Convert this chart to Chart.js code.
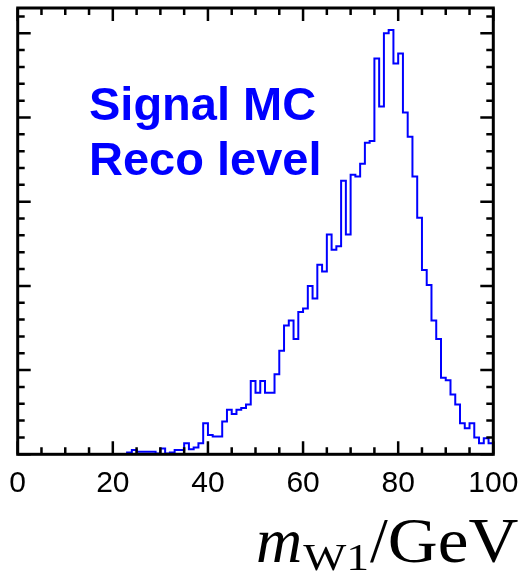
<!DOCTYPE html>
<html>
<head>
<meta charset="utf-8">
<script src="https://cdn.jsdelivr.net/npm/chart.js@4/dist/chart.umd.min.js"></script>
<style>
  html, body { margin: 0; padding: 0; background: #fff; }
</style>
</head>
<body>
<canvas id="massChart" width="523" height="574"></canvas>
<script>
// reconstructed W mass, 1 GeV bins from 0 to 100
const binEdgeLow = 0;
const binWidth = 1;
const binCounts = [
  0, 0, 0, 0, 0, 0, 0, 0, 0, 0,
  0, 0, 0, 0, 0, 0, 0, 0, 0, 0,
  0, 0, 0, 2, 5, 3, 3, 3, 3, 1,
  7, 1, 2, 5, 5, 13, 6, 8, 13, 37,
  23, 21, 21, 39, 53, 48, 53, 55, 59, 87,
  73, 87, 73, 73, 95, 123, 153, 159, 137, 169,
  173, 200, 185, 225, 217, 261, 243, 247, 325, 261,
  332, 330, 345, 370, 372, 470, 413, 500, 504, 464,
  476, 406, 377, 330, 281, 219, 201, 159, 137, 91,
  88, 71, 59, 37, 31, 37, 20, 13, 19, 13
];
const xTicks = [0, 20, 40, 60, 80, 100];
const labelLines = ['Signal MC', 'Reco level'];

const yMax = 530;
const axisFont = 'Liberation Sans, Arial, sans-serif';
const titleFont = '"Liberation Serif", "Times New Roman", serif';

// left edges of every bin, last point closes the final bin
const points = binCounts.map((c, i) => ({ x: binEdgeLow + i * binWidth, y: c }));
points.push({ x: binEdgeLow + binCounts.length * binWidth, y: binCounts[binCounts.length - 1] });

// box around the plot with inward ticks on all four sides
const frameTicks = {
  id: 'frameTicks',
  afterDatasetsDraw(chart) {
    const { ctx, chartArea: a, scales: { x, y } } = chart;
    ctx.save();
    ctx.strokeStyle = '#000';
    ctx.lineWidth = 2.5;
    ctx.beginPath();
    for (let v = 0; v <= 100; v += 5) {
      const px = x.getPixelForValue(v);
      const len = xTicks.includes(v) ? 13 : 7;
      ctx.moveTo(px, a.bottom); ctx.lineTo(px, a.bottom - len);
      ctx.moveTo(px, a.top); ctx.lineTo(px, a.top + len);
    }
    for (let v = 0; v <= yMax; v += 20) {
      const py = y.getPixelForValue(v);
      const len = v % 100 === 0 ? 13 : 7;
      ctx.moveTo(a.left, py); ctx.lineTo(a.left + len, py);
      ctx.moveTo(a.right, py); ctx.lineTo(a.right - len, py);
    }
    ctx.stroke();
    ctx.lineWidth = 3;
    ctx.strokeRect(a.left, a.top, a.width, a.height);
    ctx.restore();
  }
};

// draws a piece of text stretched sideways by sx
function wideText(ctx, str, x, y, sx) {
  ctx.save();
  ctx.translate(x, y);
  ctx.scale(sx, 1);
  ctx.fillText(str, 0, 0);
  ctx.restore();
  return ctx.measureText(str).width * sx;
}

// in-plot label and the axis title
const textLayer = {
  id: 'textLayer',
  afterDraw(chart) {
    const { ctx } = chart;
    ctx.save();
    ctx.fillStyle = '#0000ff';
    ctx.font = 'bold 47px ' + axisFont;
    ctx.textBaseline = 'alphabetic';
    ctx.fillText(labelLines[0], 89, 120);
    ctx.fillText(labelLines[1], 89, 175);

    ctx.fillStyle = '#000';
    const base = 562;
    let tx = 256;
    ctx.font = 'italic 64px ' + titleFont;
    tx += wideText(ctx, 'm', tx, base, 1.0) + 1;
    ctx.font = '38px ' + titleFont;
    tx += wideText(ctx, 'W1', tx, base + 8, 1.2) + 1;
    ctx.font = '64px ' + titleFont;
    tx += wideText(ctx, '/', tx, base, 1.0);
    wideText(ctx, 'GeV', tx, base, 1.08);
    ctx.restore();
  }
};

const ctx = document.getElementById('massChart').getContext('2d');
const massChart = new Chart(ctx, {
  type: 'line',
  data: {
    datasets: [{
      data: points,
      stepped: true,
      borderColor: '#0000ff',
      borderWidth: 2,
      pointRadius: 0,
      fill: false
    }]
  },
  options: {
    responsive: false,
    animation: false,
    layout: { padding: { left: 17.7, right: 29.7, top: 8, bottom: 0 } },
    plugins: { legend: { display: false }, tooltip: { enabled: false } },
    scales: {
      x: {
        type: 'linear',
        min: 0,
        max: 100,
        afterBuildTicks(scale) { scale.ticks = xTicks.map(v => ({ value: v })); },
        afterFit(scale) {
          scale.height = 574 - 454.3;
          scale.paddingLeft = 0;
          scale.paddingRight = 0;
        },
        grid: { display: false, drawTicks: false },
        border: { display: false },
        ticks: {
          color: '#000',
          padding: 11,
          maxRotation: 0,
          font: { family: axisFont, size: 30 }
        }
      },
      y: {
        display: false,
        min: 0,
        max: yMax
      }
    }
  },
  plugins: [frameTicks, textLayer]
});
</script>
</body>
</html>
